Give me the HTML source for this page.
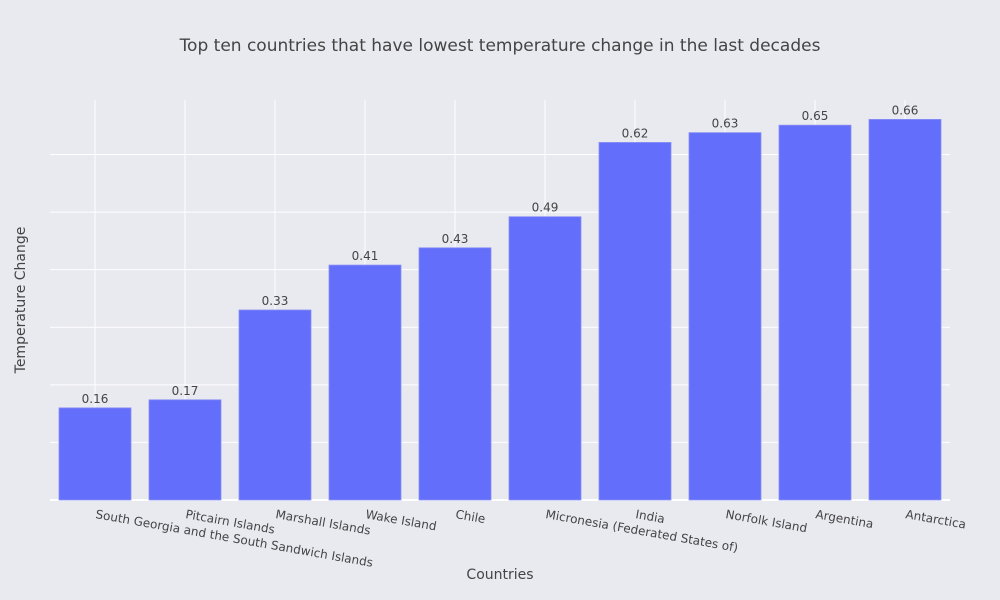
<!DOCTYPE html>
<html><head><meta charset="utf-8"><style>
body{margin:0;background:#e9e9f0;}
svg{display:block;font-family:"DejaVu Sans","Liberation Sans",sans-serif;}
</style></head><body>
<svg id="chart" width="1000" height="600">
<rect width="1000" height="600" fill="#e9e9f0"/>
<g id="grid"></g>
<g id="bars"></g>
<g id="labels"></g>
<text x="500" y="51" text-anchor="middle" font-size="17" fill="#444">Top ten countries that have lowest temperature change in the last decades</text>
<text x="500" y="579" text-anchor="middle" font-size="14" fill="#444">Countries</text>
<text x="25" y="300" text-anchor="middle" font-size="14" fill="#444" transform="rotate(-90 25 300)">Temperature Change</text>
</svg>
<script>
const categories=["South Georgia and the South Sandwich Islands","Pitcairn Islands","Marshall Islands","Wake Island","Chile","Micronesia (Federated States of)","India","Norfolk Island","Argentina","Antarctica"];
const values=[0.16,0.174,0.33,0.408,0.438,0.492,0.621,0.638,0.651,0.661];
const valueLabels=["0.16","0.17","0.33","0.41","0.43","0.49","0.62","0.63","0.65","0.66"];
const yTicks=[0.1,0.2,0.3,0.4,0.5,0.6];
const NS="http://www.w3.org/2000/svg";
const x0=50,x1=950,yTop=100,yBot=500,yMax=0.6947;
const band=(x1-x0)/categories.length;
const xc=i=>x0+band*(i+0.5);
const y=v=>yBot-(v/yMax)*(yBot-yTop);
function mk(t,a,p){const e=document.createElementNS(NS,t);for(const k in a)e.setAttribute(k,a[k]);p.appendChild(e);return e;}
const grid=document.getElementById('grid'),bars=document.getElementById('bars'),labels=document.getElementById('labels');
categories.forEach((c,i)=>{
  const l=mk('line',{x1:xc(i),x2:xc(i),y1:yTop,y2:yBot,stroke:'#fff','stroke-width':1},grid);
  
  
});
yTicks.forEach(t=>{
  const l=mk('line',{x1:x0,x2:x1,y1:y(t),y2:y(t),stroke:'#fff','stroke-width':1},grid);
  
  
});
const z=mk('line',{x1:x0,x2:x1,y1:yBot,y2:yBot,stroke:'#fff','stroke-width':2},grid);


const bw=band*0.8;
values.forEach((v,i)=>{
  const r=mk('rect',{x:xc(i)-bw/2,y:y(v),width:bw,height:yBot-y(v),fill:'#636efa',stroke:'#8a90f5','stroke-width':0.8},bars);
  
  
  const t=mk('text',{x:xc(i),y:y(v)-5,'text-anchor':'middle','font-size':12,fill:'#444'},labels);
  t.textContent=valueLabels[i];
  
  
  const lx=xc(i),ly=518;
  const c=mk('text',{x:lx,y:ly,'font-size':12,fill:'#444',transform:`rotate(10 ${lx} ${ly})`},labels);
  c.textContent=categories[i];
  
  
});
</script>
</body></html>
